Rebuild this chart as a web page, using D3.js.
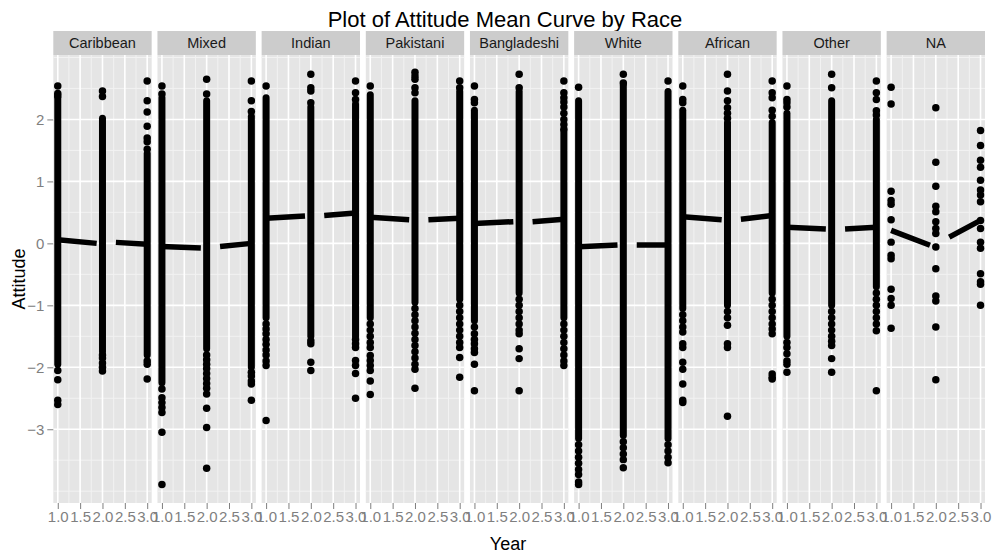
<!DOCTYPE html>
<html>
<head>
<meta charset="utf-8">
<script src="https://cdn.jsdelivr.net/npm/d3@7"></script>
<style>
  body { margin: 0; background: #fff; }
  text { font-family: "Liberation Sans", Arial, sans-serif; }
</style>
</head>
<body>
<div id="chart"></div>
<script>
var width = 993, height = 555;
var margin = {top: 55, right: 8, bottom: 52, left: 53.3};
var stripHeight = 24;
var panelGap = 5.8;

var races = ["Caribbean", "Mixed", "Indian", "Pakistani", "Bangladeshi", "White", "African", "Other", "NA"];
var years = [1, 2, 3];
var xTicks = [1, 1.5, 2, 2.5, 3];
var xMinor = [1.25, 1.75, 2.25, 2.75];
var yTicks = [-3, -2, -1, 0, 1, 2];
var yMinor = [-4, -3.5, -2.5, -1.5, -0.5, 0.5, 1.5, 2.5, 3];

// overplotted part of each column: lowest and highest attitude, per race and year
var denseLow = [
  [-1.95, -1.75, -1.8],
  [-2.25, -1.7, -2.0],
  [-1.2, -1.5, -1.5],
  [-1.2, -0.95, -0.9],
  [-1.25, -0.8, -1.2],
  [-3.15, -3.1, -3.15],
  [-1.05, -1.0, -0.8],
  [-1.5, -1.0, -0.7],
  [null, null, null]
];
var denseHigh = [
  [2.35, 2.02, 1.45],
  [2.35, 2.3, 2.05],
  [2.35, 2.2, 2.25],
  [2.4, 2.3, 2.45],
  [2.15, 2.45, 1.8],
  [2.3, 2.55, 2.45],
  [2.15, 1.95, 1.95],
  [2.1, 2.3, 2.0],
  [null, null, null]
];

// separate points outside the solid part
var sparsePoints = [
  [[2.54, 2.42, 2.38, -2.05, -2.2, -2.53, -2.6],
   [2.46, 2.37, -1.8, -1.85, -1.93, -2.0, -2.06],
   [2.62, 2.3, 2.12, 1.89, 1.7, 1.64, 1.52, -1.9, -1.95, -2.19]],
  [[2.54, 2.41, -2.35, -2.49, -2.57, -2.65, -2.73, -3.05, -3.89],
   [2.65, 2.41, -1.8, -1.88, -1.95, -2.02, -2.1, -2.18, -2.26, -2.34, -2.43, -2.66, -2.97, -3.63],
   [2.62, 2.3, 2.13, -2.08, -2.14, -2.22, -2.27, -2.53]],
  [[2.54, -1.3, -1.38, -1.46, -1.55, -1.63, -1.72, -1.8, -1.9, -1.97, -2.86],
   [2.73, 2.51, 2.46, 2.27, -1.57, -1.62, -1.92, -2.05],
   [2.62, 2.43, 2.32, -1.55, -1.62, -1.68, -1.89, -1.97, -2.1, -2.5]],
  [[2.54, -1.3, -1.4, -1.5, -1.6, -1.68, -1.81, -1.89, -1.97, -2.05, -2.22, -2.44],
   [2.76, 2.7, 2.65, 2.51, 2.43, -1.05, -1.15, -1.25, -1.35, -1.45, -1.55, -1.65, -1.75, -1.85, -1.95, -2.03, -2.34],
   [2.62, 2.51, -1.0, -1.1, -1.2, -1.3, -1.4, -1.5, -1.6, -1.68, -1.84, -2.16]],
  [[2.54, 2.32, 2.27, -1.35, -1.46, -1.55, -1.62, -1.7, -1.76, -1.95, -2.38],
   [2.73, 2.51, -0.9, -1.0, -1.1, -1.2, -1.3, -1.4, -1.46, -1.7, -1.86, -2.38],
   [2.62, 2.43, 2.35, 2.28, 2.2, 2.1, 2.0, 1.92, 1.84, -1.3, -1.4, -1.5, -1.6, -1.7, -1.8, -1.9, -1.97]],
  [[2.52, -3.25, -3.35, -3.45, -3.55, -3.65, -3.73, -3.85, -3.89],
   [2.73, 2.59, -3.2, -3.3, -3.4, -3.49, -3.62],
   [2.62, -3.25, -3.35, -3.45, -3.54]],
  [[2.54, 2.32, 2.27, -1.15, -1.25, -1.35, -1.43, -1.62, -1.68, -1.92, -2.03, -2.27, -2.53, -2.57],
   [2.73, 2.46, 2.3, 2.19, 2.1, 2.02, -1.1, -1.2, -1.32, -1.62, -1.68, -2.79],
   [2.62, 2.43, 2.35, 2.15, 2.05, -0.9, -1.0, -1.1, -1.2, -1.3, -1.38, -1.46, -2.11, -2.16, -2.19]],
  [[2.54, 2.32, 2.27, 2.2, -1.6, -1.68, -1.78, -1.9, -1.95, -2.08],
   [2.73, 2.51, -1.1, -1.2, -1.3, -1.4, -1.5, -1.58, -1.65, -1.86, -2.08],
   [2.62, 2.43, 2.32, 2.14, 2.07, -0.8, -0.9, -1.0, -1.1, -1.2, -1.3, -1.41, -2.38]],
  [[2.52, 2.25, 0.84, 0.69, 0.63, 0.38, 0.02, -0.19, -0.25, -0.74, -0.89, -1.0, -1.37],
   [2.19, 1.31, 0.92, 0.6, 0.51, 0.35, 0.24, 0.16, -0.06, -0.41, -0.85, -0.93, -1.35, -2.2],
   [1.82, 1.58, 1.34, 1.23, 1.02, 0.86, 0.78, 0.67, 0.37, 0.24, 0.02, -0.08, -0.49, -0.62, -0.66, -1.0]]
];

// mean curve, drawn in two pieces with a break between 1.87 and 2.3
var curveYears = [1, 1.87, 2.3, 3];
var meanAtStart = [0.06, -0.05, 0.405, 0.42, 0.32, -0.054, 0.43, 0.26, 0.21];
var meanBeforeGap = [0.0, -0.076, 0.443, 0.38, 0.35, -0.027, 0.38, 0.23, -0.03];
var meanAfterGap = [0.016, -0.05, 0.45, 0.38, 0.35, -0.027, 0.39, 0.23, 0.10];
var meanAtEnd = [-0.016, 0.0, 0.49, 0.405, 0.39, -0.027, 0.45, 0.26, 0.37];

var panelW = (width - margin.left - margin.right - panelGap * (races.length - 1)) / races.length;
var plotBottom = height - margin.bottom;

var panelX = d3.scaleBand()
  .domain(races)
  .range([margin.left, width - margin.right + panelGap])
  .paddingInner(0)
  .align(0);

var x = d3.scaleLinear().domain([0.9, 3.1]).range([0, panelW]);
var y = d3.scaleLinear().domain([-4.19, 3.04]).range([plotBottom, margin.top]);

var svg = d3.select("#chart").append("svg")
  .attr("width", width)
  .attr("height", height)
  .attr("viewBox", [0, 0, width, height]);

svg.append("rect").attr("width", width).attr("height", height).attr("fill", "#fff");

svg.append("text")
  .attr("x", 505)
  .attr("y", 27)
  .attr("text-anchor", "middle")
  .attr("font-size", 22)
  .attr("fill", "#000")
  .text("Plot of Attitude Mean Curve by Race");

var line = d3.line()
  .defined(d => d[1] != null)
  .x(d => x(d[0]))
  .y(d => y(d[1]));

// diamond-ish dots like the low-res original
var dot = d3.symbol().type(d3.symbolCircle).size(44);

races.forEach(function(race, i) {
  var g = svg.append("g")
    .attr("transform", `translate(${panelX(race)},0)`);

  // strip
  g.append("rect")
    .attr("x", 0).attr("y", margin.top - stripHeight)
    .attr("width", panelW).attr("height", stripHeight)
    .attr("fill", "#cccccc");
  g.append("text")
    .attr("x", panelW / 2).attr("y", margin.top - 7)
    .attr("text-anchor", "middle")
    .attr("font-size", 14.5)
    .attr("fill", "#1a1a1a")
    .text(race);

  // panel background and grid
  g.append("rect")
    .attr("x", 0).attr("y", margin.top)
    .attr("width", panelW).attr("height", plotBottom - margin.top)
    .attr("fill", "#e5e5e5");

  g.selectAll(".ymin").data(yMinor).join("line")
    .attr("x1", 0).attr("x2", panelW)
    .attr("y1", d => y(d)).attr("y2", d => y(d))
    .attr("stroke", "#f2f2f2").attr("stroke-width", 1);
  g.selectAll(".xmin").data(xMinor).join("line")
    .attr("x1", d => x(d)).attr("x2", d => x(d))
    .attr("y1", margin.top).attr("y2", plotBottom)
    .attr("stroke", "#f2f2f2").attr("stroke-width", 1);
  g.selectAll(".ymaj").data(yTicks).join("line")
    .attr("x1", 0).attr("x2", panelW)
    .attr("y1", d => y(d)).attr("y2", d => y(d))
    .attr("stroke", "#fff").attr("stroke-width", 1.6);
  g.selectAll(".xmaj").data(xTicks).join("line")
    .attr("x1", d => x(d)).attr("x2", d => x(d))
    .attr("y1", margin.top).attr("y2", plotBottom)
    .attr("stroke", "#fff").attr("stroke-width", 1.6);

  // points
  years.forEach(function(yr, j) {
    if (denseLow[i][j] != null) {
      g.append("line")
        .attr("x1", x(yr)).attr("x2", x(yr))
        .attr("y1", y(denseLow[i][j])).attr("y2", y(denseHigh[i][j]))
        .attr("stroke", "#000").attr("stroke-width", 7)
        .attr("stroke-linecap", "round");
    }
    g.append("g").selectAll("path")
      .data(sparsePoints[i][j])
      .join("path")
        .attr("transform", d => `translate(${x(yr)},${y(d)})`)
        .attr("d", dot)
        .attr("fill", "#000");
  });

  // mean curve
  var curve = [
    [curveYears[0], meanAtStart[i]],
    [curveYears[1], meanBeforeGap[i]],
    [curveYears[1], null],
    [curveYears[2], meanAfterGap[i]],
    [curveYears[3], meanAtEnd[i]]
  ];
  g.append("path")
    .datum(curve)
    .attr("fill", "none")
    .attr("stroke", "#000")
    .attr("stroke-width", 5.5)
    .attr("d", line);

  // x axis
  var xAxis = g.append("g")
    .attr("transform", `translate(0,${plotBottom})`)
    .call(d3.axisBottom(x).tickValues(xTicks).tickFormat(d3.format(".1f")).tickSize(6).tickPadding(2));
  xAxis.select(".domain").remove();
  xAxis.selectAll(".tick line").attr("stroke", "#7f7f7f").attr("stroke-width", 1);
  xAxis.selectAll(".tick text")
    .attr("fill", "#7f7f7f")
    .attr("font-size", 15)
    .attr("font-family", "Liberation Sans, Arial, sans-serif");
});

// y axis
var yAxis = svg.append("g")
  .attr("transform", `translate(${margin.left},0)`)
  .call(d3.axisLeft(y).tickValues(yTicks).tickFormat(d3.format("d")).tickSize(6).tickPadding(3));
yAxis.select(".domain").remove();
yAxis.selectAll(".tick line").attr("stroke", "#7f7f7f").attr("stroke-width", 1);
yAxis.selectAll(".tick text")
  .attr("fill", "#7f7f7f")
  .attr("font-size", 15)
  .attr("font-family", "Liberation Sans, Arial, sans-serif");

svg.append("text")
  .attr("x", 508)
  .attr("y", 550)
  .attr("text-anchor", "middle")
  .attr("font-size", 18)
  .attr("fill", "#000")
  .text("Year");

svg.append("text")
  .attr("transform", `translate(25,${(margin.top + plotBottom) / 2}) rotate(-90)`)
  .attr("text-anchor", "middle")
  .attr("font-size", 18)
  .attr("fill", "#000")
  .text("Attitude");
</script>
</body>
</html>
